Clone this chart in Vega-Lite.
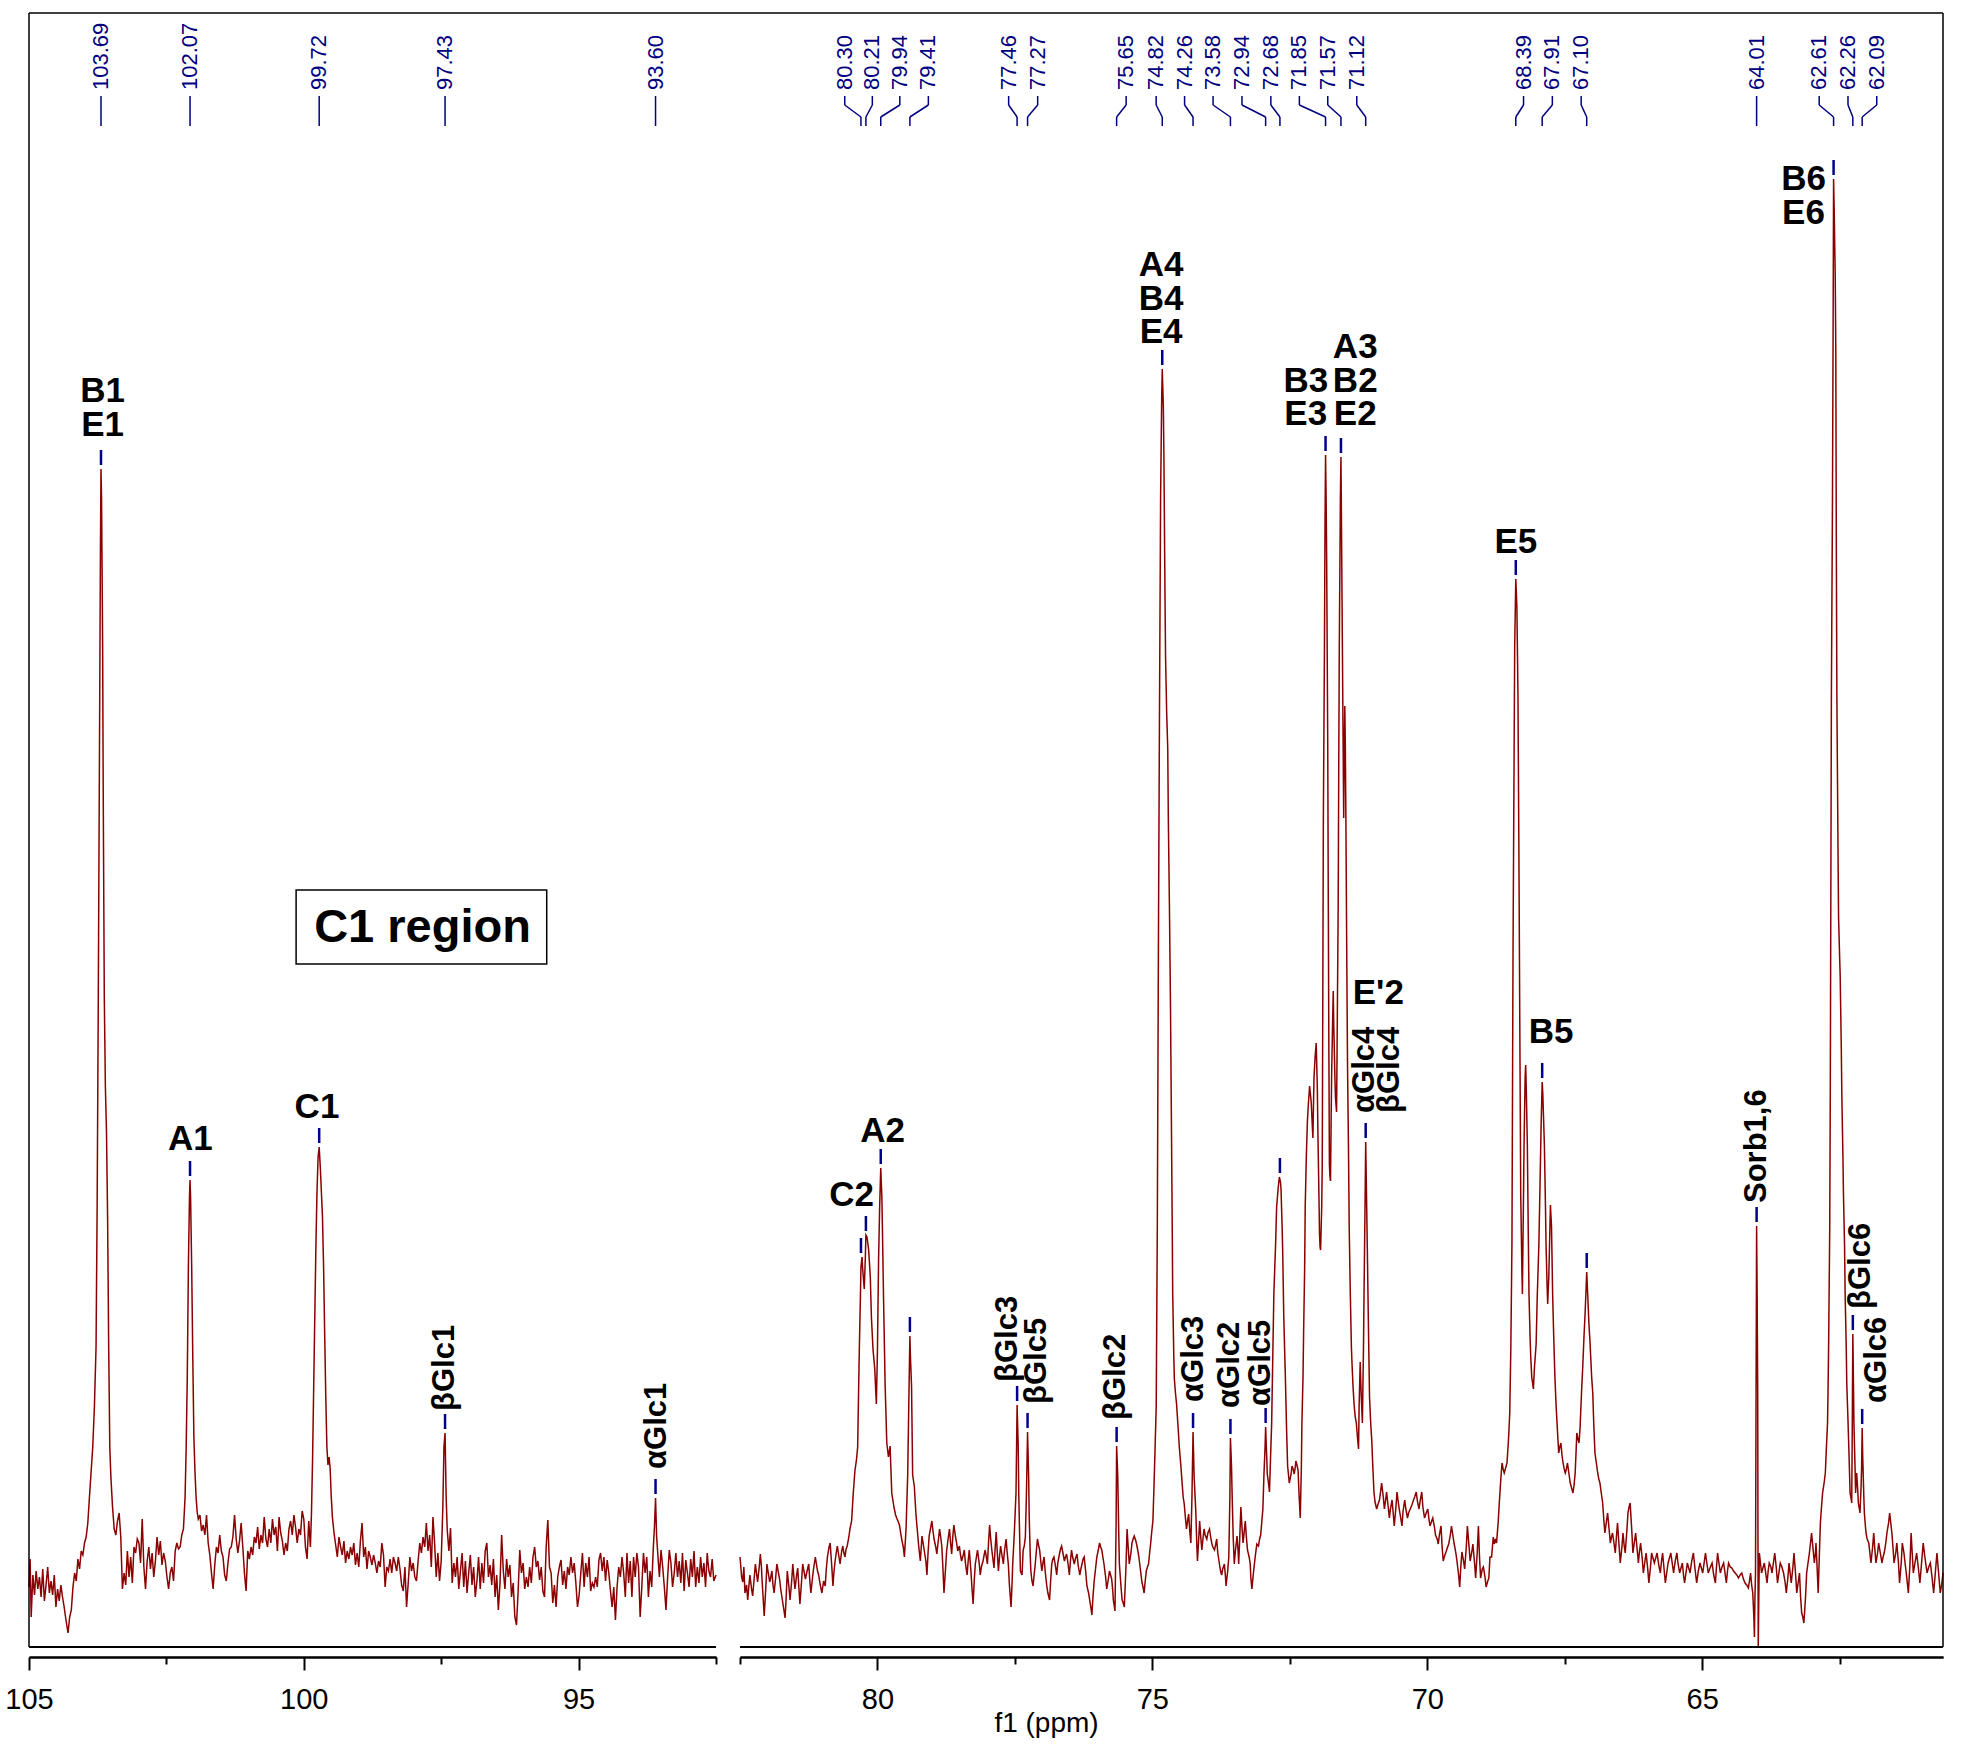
{
"$schema":"https://vega.github.io/schema/vega-lite/v6.json",
"width":1914,"height":1634,
"autosize":{"type":"none"},
"padding":{"left":29,"top":13,"right":21,"bottom":115},
"background":"white",
"config":{"view":{"stroke":null}},
"datasets":{
"L":[{"p":105.00,"y":60},{"p":104.98,"y":88},{"p":104.96,"y":30},{"p":104.93,"y":72},{"p":104.90,"y":52},{"p":104.87,"y":76},{"p":104.84,"y":58},{"p":104.81,"y":70},{"p":104.78,"y":50},{"p":104.75,"y":78},{"p":104.72,"y":46},{"p":104.69,"y":62},{"p":104.66,"y":80},{"p":104.63,"y":54},{"p":104.60,"y":66},{"p":104.57,"y":52},{"p":104.54,"y":72},{"p":104.51,"y":40},{"p":104.48,"y":58},{"p":104.45,"y":46},{"p":104.42,"y":62},{"p":104.39,"y":50},{"p":104.36,"y":40},{"p":104.33,"y":28},{"p":104.29,"y":14},{"p":104.26,"y":30},{"p":104.23,"y":37},{"p":104.20,"y":60},{"p":104.17,"y":74},{"p":104.14,"y":66},{"p":104.11,"y":88},{"p":104.08,"y":78},{"p":104.05,"y":96},{"p":104.02,"y":92},{"p":103.99,"y":104},{"p":103.96,"y":110},{"p":103.93,"y":124},{"p":103.90,"y":150},{"p":103.87,"y":175},{"p":103.84,"y":200},{"p":103.81,"y":240},{"p":103.78,"y":300},{"p":103.76,"y":440},{"p":103.74,"y":640},{"p":103.72,"y":870},{"p":103.70,"y":1100},{"p":103.69,"y":1178},{"p":103.68,"y":1150},{"p":103.66,"y":1000},{"p":103.65,"y":860},{"p":103.63,"y":650},{"p":103.61,"y":560},{"p":103.59,"y":515},{"p":103.57,"y":430},{"p":103.55,"y":300},{"p":103.53,"y":200},{"p":103.51,"y":170},{"p":103.48,"y":140},{"p":103.45,"y":118},{"p":103.42,"y":112},{"p":103.39,"y":126},{"p":103.36,"y":134},{"p":103.33,"y":110},{"p":103.30,"y":58},{"p":103.27,"y":74},{"p":103.24,"y":62},{"p":103.21,"y":96},{"p":103.18,"y":70},{"p":103.15,"y":90},{"p":103.12,"y":64},{"p":103.09,"y":100},{"p":103.06,"y":94},{"p":103.03,"y":108},{"p":103.00,"y":104},{"p":102.97,"y":84},{"p":102.94,"y":128},{"p":102.91,"y":80},{"p":102.88,"y":58},{"p":102.85,"y":86},{"p":102.82,"y":100},{"p":102.79,"y":78},{"p":102.76,"y":94},{"p":102.73,"y":70},{"p":102.70,"y":86},{"p":102.67,"y":110},{"p":102.64,"y":92},{"p":102.61,"y":106},{"p":102.58,"y":82},{"p":102.55,"y":94},{"p":102.52,"y":86},{"p":102.49,"y":70},{"p":102.46,"y":58},{"p":102.43,"y":74},{"p":102.40,"y":80},{"p":102.37,"y":66},{"p":102.34,"y":96},{"p":102.31,"y":104},{"p":102.28,"y":98},{"p":102.25,"y":100},{"p":102.22,"y":112},{"p":102.19,"y":118},{"p":102.16,"y":150},{"p":102.14,"y":200},{"p":102.12,"y":270},{"p":102.10,"y":380},{"p":102.08,"y":450},{"p":102.07,"y":467},{"p":102.06,"y":450},{"p":102.04,"y":380},{"p":102.02,"y":290},{"p":102.00,"y":210},{"p":101.98,"y":175},{"p":101.96,"y":150},{"p":101.94,"y":135},{"p":101.92,"y":128},{"p":101.89,"y":132},{"p":101.86,"y":116},{"p":101.83,"y":122},{"p":101.80,"y":112},{"p":101.77,"y":132},{"p":101.74,"y":104},{"p":101.71,"y":92},{"p":101.68,"y":74},{"p":101.65,"y":58},{"p":101.62,"y":82},{"p":101.59,"y":100},{"p":101.56,"y":94},{"p":101.53,"y":112},{"p":101.50,"y":96},{"p":101.47,"y":90},{"p":101.44,"y":72},{"p":101.41,"y":66},{"p":101.38,"y":84},{"p":101.35,"y":98},{"p":101.32,"y":100},{"p":101.29,"y":110},{"p":101.26,"y":132},{"p":101.23,"y":108},{"p":101.20,"y":94},{"p":101.17,"y":106},{"p":101.14,"y":124},{"p":101.11,"y":100},{"p":101.08,"y":74},{"p":101.05,"y":56},{"p":101.02,"y":96},{"p":100.99,"y":88},{"p":100.96,"y":100},{"p":100.93,"y":92},{"p":100.90,"y":110},{"p":100.87,"y":104},{"p":100.84,"y":120},{"p":100.81,"y":98},{"p":100.78,"y":112},{"p":100.75,"y":104},{"p":100.72,"y":130},{"p":100.69,"y":108},{"p":100.66,"y":100},{"p":100.63,"y":118},{"p":100.60,"y":104},{"p":100.57,"y":128},{"p":100.54,"y":112},{"p":100.51,"y":120},{"p":100.48,"y":96},{"p":100.45,"y":130},{"p":100.42,"y":114},{"p":100.39,"y":106},{"p":100.36,"y":92},{"p":100.33,"y":104},{"p":100.30,"y":96},{"p":100.27,"y":118},{"p":100.24,"y":126},{"p":100.21,"y":112},{"p":100.18,"y":132},{"p":100.15,"y":120},{"p":100.12,"y":104},{"p":100.09,"y":118},{"p":100.06,"y":112},{"p":100.03,"y":136},{"p":100.00,"y":128},{"p":99.97,"y":100},{"p":99.94,"y":88},{"p":99.91,"y":126},{"p":99.88,"y":100},{"p":99.86,"y":135},{"p":99.84,"y":189},{"p":99.82,"y":260},{"p":99.80,"y":330},{"p":99.78,"y":400},{"p":99.76,"y":455},{"p":99.74,"y":490},{"p":99.72,"y":500},{"p":99.70,"y":480},{"p":99.68,"y":455},{"p":99.66,"y":430},{"p":99.64,"y":380},{"p":99.62,"y":313},{"p":99.60,"y":250},{"p":99.58,"y":200},{"p":99.56,"y":182},{"p":99.54,"y":190},{"p":99.52,"y":178},{"p":99.50,"y":150},{"p":99.48,"y":130},{"p":99.45,"y":114},{"p":99.42,"y":102},{"p":99.39,"y":90},{"p":99.36,"y":110},{"p":99.33,"y":100},{"p":99.30,"y":92},{"p":99.27,"y":106},{"p":99.24,"y":84},{"p":99.21,"y":96},{"p":99.18,"y":88},{"p":99.15,"y":100},{"p":99.12,"y":92},{"p":99.09,"y":104},{"p":99.06,"y":82},{"p":99.03,"y":94},{"p":99.00,"y":80},{"p":98.97,"y":106},{"p":98.94,"y":124},{"p":98.91,"y":90},{"p":98.88,"y":100},{"p":98.85,"y":78},{"p":98.82,"y":96},{"p":98.79,"y":90},{"p":98.76,"y":82},{"p":98.73,"y":92},{"p":98.70,"y":84},{"p":98.67,"y":74},{"p":98.64,"y":86},{"p":98.61,"y":80},{"p":98.58,"y":104},{"p":98.55,"y":92},{"p":98.52,"y":60},{"p":98.49,"y":80},{"p":98.46,"y":76},{"p":98.43,"y":88},{"p":98.40,"y":74},{"p":98.37,"y":90},{"p":98.34,"y":84},{"p":98.31,"y":76},{"p":98.28,"y":90},{"p":98.25,"y":78},{"p":98.22,"y":62},{"p":98.19,"y":56},{"p":98.16,"y":80},{"p":98.13,"y":40},{"p":98.10,"y":64},{"p":98.07,"y":90},{"p":98.04,"y":76},{"p":98.01,"y":84},{"p":97.98,"y":70},{"p":97.95,"y":66},{"p":97.92,"y":86},{"p":97.89,"y":104},{"p":97.86,"y":94},{"p":97.83,"y":110},{"p":97.80,"y":100},{"p":97.77,"y":124},{"p":97.74,"y":96},{"p":97.71,"y":112},{"p":97.68,"y":80},{"p":97.65,"y":130},{"p":97.62,"y":104},{"p":97.59,"y":70},{"p":97.56,"y":94},{"p":97.53,"y":66},{"p":97.50,"y":86},{"p":97.47,"y":140},{"p":97.45,"y":200},{"p":97.43,"y":214},{"p":97.41,"y":150},{"p":97.39,"y":117},{"p":97.36,"y":96},{"p":97.33,"y":119},{"p":97.30,"y":64},{"p":97.27,"y":84},{"p":97.24,"y":70},{"p":97.21,"y":90},{"p":97.18,"y":58},{"p":97.15,"y":76},{"p":97.12,"y":94},{"p":97.09,"y":60},{"p":97.06,"y":86},{"p":97.03,"y":54},{"p":97.00,"y":74},{"p":96.97,"y":92},{"p":96.94,"y":62},{"p":96.91,"y":80},{"p":96.88,"y":50},{"p":96.85,"y":66},{"p":96.82,"y":90},{"p":96.79,"y":58},{"p":96.76,"y":84},{"p":96.73,"y":64},{"p":96.70,"y":96},{"p":96.67,"y":104},{"p":96.64,"y":70},{"p":96.61,"y":82},{"p":96.58,"y":62},{"p":96.55,"y":88},{"p":96.52,"y":50},{"p":96.49,"y":72},{"p":96.46,"y":37},{"p":96.43,"y":64},{"p":96.40,"y":112},{"p":96.37,"y":76},{"p":96.34,"y":58},{"p":96.31,"y":88},{"p":96.28,"y":70},{"p":96.25,"y":82},{"p":96.22,"y":50},{"p":96.19,"y":64},{"p":96.16,"y":30},{"p":96.13,"y":22},{"p":96.10,"y":56},{"p":96.07,"y":97},{"p":96.04,"y":74},{"p":96.01,"y":84},{"p":95.98,"y":58},{"p":95.95,"y":70},{"p":95.92,"y":60},{"p":95.89,"y":80},{"p":95.86,"y":64},{"p":95.83,"y":90},{"p":95.80,"y":100},{"p":95.77,"y":80},{"p":95.74,"y":86},{"p":95.71,"y":67},{"p":95.68,"y":80},{"p":95.65,"y":56},{"p":95.62,"y":50},{"p":95.59,"y":100},{"p":95.56,"y":127},{"p":95.53,"y":80},{"p":95.50,"y":74},{"p":95.47,"y":44},{"p":95.44,"y":62},{"p":95.41,"y":40},{"p":95.38,"y":70},{"p":95.35,"y":80},{"p":95.32,"y":87},{"p":95.29,"y":62},{"p":95.26,"y":76},{"p":95.23,"y":58},{"p":95.20,"y":80},{"p":95.17,"y":72},{"p":95.14,"y":90},{"p":95.11,"y":74},{"p":95.08,"y":84},{"p":95.05,"y":64},{"p":95.02,"y":40},{"p":94.99,"y":52},{"p":94.96,"y":74},{"p":94.93,"y":94},{"p":94.90,"y":60},{"p":94.87,"y":84},{"p":94.84,"y":70},{"p":94.81,"y":90},{"p":94.78,"y":56},{"p":94.75,"y":64},{"p":94.72,"y":60},{"p":94.69,"y":70},{"p":94.66,"y":60},{"p":94.63,"y":87},{"p":94.60,"y":94},{"p":94.57,"y":76},{"p":94.54,"y":90},{"p":94.51,"y":66},{"p":94.48,"y":87},{"p":94.45,"y":74},{"p":94.42,"y":56},{"p":94.39,"y":40},{"p":94.36,"y":60},{"p":94.33,"y":27},{"p":94.30,"y":60},{"p":94.27,"y":80},{"p":94.24,"y":70},{"p":94.21,"y":90},{"p":94.18,"y":74},{"p":94.15,"y":50},{"p":94.12,"y":94},{"p":94.09,"y":64},{"p":94.06,"y":86},{"p":94.03,"y":50},{"p":94.00,"y":90},{"p":93.97,"y":70},{"p":93.94,"y":94},{"p":93.91,"y":80},{"p":93.88,"y":30},{"p":93.85,"y":60},{"p":93.82,"y":94},{"p":93.79,"y":74},{"p":93.76,"y":90},{"p":93.73,"y":50},{"p":93.70,"y":76},{"p":93.67,"y":60},{"p":93.64,"y":100},{"p":93.62,"y":120},{"p":93.60,"y":149},{"p":93.58,"y":110},{"p":93.56,"y":94},{"p":93.53,"y":70},{"p":93.50,"y":97},{"p":93.47,"y":80},{"p":93.44,"y":60},{"p":93.41,"y":37},{"p":93.38,"y":70},{"p":93.35,"y":97},{"p":93.32,"y":84},{"p":93.29,"y":60},{"p":93.26,"y":74},{"p":93.23,"y":94},{"p":93.20,"y":70},{"p":93.17,"y":86},{"p":93.14,"y":64},{"p":93.11,"y":94},{"p":93.08,"y":56},{"p":93.05,"y":87},{"p":93.02,"y":74},{"p":92.99,"y":60},{"p":92.96,"y":88},{"p":92.93,"y":70},{"p":92.90,"y":96},{"p":92.87,"y":60},{"p":92.84,"y":80},{"p":92.81,"y":64},{"p":92.78,"y":90},{"p":92.75,"y":70},{"p":92.72,"y":84},{"p":92.69,"y":60},{"p":92.66,"y":94},{"p":92.63,"y":76},{"p":92.60,"y":70},{"p":92.57,"y":88},{"p":92.54,"y":66},{"p":92.50,"y":72}],
"R":[{"p":82.50,"y":90},{"p":82.47,"y":70},{"p":82.45,"y":65},{"p":82.43,"y":80},{"p":82.41,"y":54},{"p":82.38,"y":62},{"p":82.36,"y":47},{"p":82.34,"y":60},{"p":82.32,"y":72},{"p":82.29,"y":58},{"p":82.27,"y":51},{"p":82.24,"y":70},{"p":82.22,"y":83},{"p":82.20,"y":74},{"p":82.18,"y":65},{"p":82.15,"y":80},{"p":82.13,"y":93},{"p":82.11,"y":80},{"p":82.10,"y":68},{"p":82.08,"y":50},{"p":82.06,"y":31},{"p":82.03,"y":60},{"p":82.01,"y":83},{"p":81.98,"y":72},{"p":81.96,"y":65},{"p":81.94,"y":70},{"p":81.92,"y":76},{"p":81.90,"y":62},{"p":81.88,"y":54},{"p":81.85,"y":70},{"p":81.83,"y":83},{"p":81.80,"y":74},{"p":81.78,"y":68},{"p":81.76,"y":58},{"p":81.74,"y":51},{"p":81.71,"y":40},{"p":81.68,"y":29},{"p":81.66,"y":50},{"p":81.64,"y":76},{"p":81.61,"y":60},{"p":81.59,"y":47},{"p":81.56,"y":66},{"p":81.54,"y":83},{"p":81.52,"y":70},{"p":81.50,"y":58},{"p":81.47,"y":72},{"p":81.45,"y":79},{"p":81.43,"y":60},{"p":81.41,"y":43},{"p":81.38,"y":66},{"p":81.36,"y":83},{"p":81.33,"y":74},{"p":81.31,"y":68},{"p":81.28,"y":76},{"p":81.25,"y":83},{"p":81.23,"y":66},{"p":81.21,"y":54},{"p":81.18,"y":70},{"p":81.16,"y":79},{"p":81.13,"y":90},{"p":81.11,"y":83},{"p":81.09,"y":76},{"p":81.07,"y":72},{"p":81.04,"y":62},{"p":81.01,"y":54},{"p":80.98,"y":66},{"p":80.95,"y":61},{"p":80.93,"y":78},{"p":80.91,"y":90},{"p":80.88,"y":100},{"p":80.86,"y":104},{"p":80.83,"y":80},{"p":80.81,"y":61},{"p":80.79,"y":76},{"p":80.77,"y":86},{"p":80.75,"y":94},{"p":80.73,"y":101},{"p":80.70,"y":90},{"p":80.68,"y":83},{"p":80.65,"y":96},{"p":80.63,"y":101},{"p":80.61,"y":94},{"p":80.59,"y":90},{"p":80.57,"y":98},{"p":80.55,"y":101},{"p":80.52,"y":110},{"p":80.50,"y":118},{"p":80.47,"y":126},{"p":80.44,"y":154},{"p":80.41,"y":176},{"p":80.38,"y":188},{"p":80.36,"y":200},{"p":80.35,"y":233},{"p":80.33,"y":297},{"p":80.31,"y":350},{"p":80.30,"y":380},{"p":80.28,"y":390},{"p":80.27,"y":379},{"p":80.25,"y":365},{"p":80.24,"y":358},{"p":80.22,"y":390},{"p":80.21,"y":412},{"p":80.19,"y":410},{"p":80.16,"y":397},{"p":80.13,"y":370},{"p":80.11,"y":330},{"p":80.08,"y":297},{"p":80.05,"y":279},{"p":80.02,"y":243},{"p":80.00,"y":297},{"p":79.98,"y":386},{"p":79.96,"y":440},{"p":79.94,"y":479},{"p":79.92,"y":450},{"p":79.91,"y":420},{"p":79.89,"y":351},{"p":79.86,"y":261},{"p":79.83,"y":204},{"p":79.80,"y":190},{"p":79.77,"y":201},{"p":79.74,"y":154},{"p":79.70,"y":140},{"p":79.67,"y":132},{"p":79.65,"y":129},{"p":79.62,"y":125},{"p":79.60,"y":122},{"p":79.58,"y":115},{"p":79.56,"y":108},{"p":79.53,"y":100},{"p":79.51,"y":90},{"p":79.48,"y":118},{"p":79.45,"y":172},{"p":79.43,"y":243},{"p":79.41,"y":311},{"p":79.40,"y":290},{"p":79.38,"y":261},{"p":79.36,"y":172},{"p":79.33,"y":161},{"p":79.30,"y":133},{"p":79.28,"y":120},{"p":79.25,"y":101},{"p":79.22,"y":86},{"p":79.19,"y":111},{"p":79.17,"y":104},{"p":79.15,"y":97},{"p":79.12,"y":86},{"p":79.10,"y":72},{"p":79.08,"y":94},{"p":79.06,"y":111},{"p":79.03,"y":120},{"p":79.01,"y":126},{"p":78.99,"y":116},{"p":78.97,"y":108},{"p":78.94,"y":100},{"p":78.92,"y":93},{"p":78.89,"y":108},{"p":78.87,"y":118},{"p":78.85,"y":110},{"p":78.83,"y":101},{"p":78.81,"y":80},{"p":78.79,"y":54},{"p":78.76,"y":80},{"p":78.74,"y":97},{"p":78.71,"y":110},{"p":78.69,"y":118},{"p":78.67,"y":104},{"p":78.65,"y":93},{"p":78.63,"y":110},{"p":78.61,"y":122},{"p":78.58,"y":110},{"p":78.56,"y":104},{"p":78.54,"y":96},{"p":78.51,"y":101},{"p":78.49,"y":92},{"p":78.47,"y":86},{"p":78.44,"y":92},{"p":78.42,"y":97},{"p":78.40,"y":84},{"p":78.37,"y":72},{"p":78.35,"y":86},{"p":78.33,"y":97},{"p":78.30,"y":76},{"p":78.28,"y":58},{"p":78.26,"y":43},{"p":78.24,"y":66},{"p":78.22,"y":83},{"p":78.20,"y":90},{"p":78.18,"y":97},{"p":78.15,"y":84},{"p":78.13,"y":72},{"p":78.11,"y":80},{"p":78.08,"y":86},{"p":78.06,"y":92},{"p":78.04,"y":97},{"p":78.02,"y":90},{"p":78.00,"y":83},{"p":77.98,"y":104},{"p":77.96,"y":122},{"p":77.94,"y":108},{"p":77.92,"y":97},{"p":77.90,"y":88},{"p":77.88,"y":79},{"p":77.86,"y":98},{"p":77.84,"y":115},{"p":77.82,"y":94},{"p":77.80,"y":76},{"p":77.78,"y":90},{"p":77.76,"y":101},{"p":77.73,"y":90},{"p":77.71,"y":83},{"p":77.69,"y":96},{"p":77.66,"y":108},{"p":77.64,"y":94},{"p":77.62,"y":83},{"p":77.60,"y":62},{"p":77.57,"y":40},{"p":77.55,"y":66},{"p":77.54,"y":83},{"p":77.52,"y":104},{"p":77.51,"y":115},{"p":77.48,"y":154},{"p":77.46,"y":242},{"p":77.44,"y":200},{"p":77.43,"y":154},{"p":77.41,"y":100},{"p":77.40,"y":76},{"p":77.37,"y":72},{"p":77.35,"y":97},{"p":77.33,"y":101},{"p":77.31,"y":110},{"p":77.29,"y":154},{"p":77.27,"y":215},{"p":77.25,"y":170},{"p":77.24,"y":130},{"p":77.22,"y":90},{"p":77.21,"y":76},{"p":77.19,"y":66},{"p":77.17,"y":61},{"p":77.15,"y":72},{"p":77.13,"y":83},{"p":77.11,"y":96},{"p":77.09,"y":108},{"p":77.07,"y":102},{"p":77.05,"y":97},{"p":77.03,"y":86},{"p":77.01,"y":76},{"p":76.99,"y":84},{"p":76.97,"y":90},{"p":76.95,"y":76},{"p":76.92,"y":61},{"p":76.90,"y":54},{"p":76.87,"y":47},{"p":76.85,"y":66},{"p":76.83,"y":83},{"p":76.81,"y":88},{"p":76.79,"y":90},{"p":76.76,"y":80},{"p":76.74,"y":72},{"p":76.72,"y":84},{"p":76.69,"y":93},{"p":76.67,"y":98},{"p":76.65,"y":101},{"p":76.62,"y":92},{"p":76.60,"y":86},{"p":76.58,"y":90},{"p":76.56,"y":93},{"p":76.53,"y":82},{"p":76.51,"y":72},{"p":76.49,"y":86},{"p":76.47,"y":97},{"p":76.45,"y":90},{"p":76.42,"y":83},{"p":76.40,"y":88},{"p":76.37,"y":93},{"p":76.35,"y":82},{"p":76.32,"y":72},{"p":76.30,"y":78},{"p":76.28,"y":83},{"p":76.26,"y":88},{"p":76.24,"y":90},{"p":76.21,"y":74},{"p":76.19,"y":61},{"p":76.16,"y":54},{"p":76.14,"y":47},{"p":76.12,"y":40},{"p":76.10,"y":32},{"p":76.08,"y":50},{"p":76.06,"y":65},{"p":76.03,"y":80},{"p":76.01,"y":90},{"p":75.98,"y":98},{"p":75.96,"y":104},{"p":75.94,"y":100},{"p":75.92,"y":97},{"p":75.90,"y":90},{"p":75.88,"y":83},{"p":75.85,"y":70},{"p":75.83,"y":58},{"p":75.80,"y":68},{"p":75.78,"y":76},{"p":75.76,"y":72},{"p":75.74,"y":68},{"p":75.72,"y":56},{"p":75.71,"y":47},{"p":75.69,"y":40},{"p":75.68,"y":36},{"p":75.66,"y":120},{"p":75.65,"y":201},{"p":75.63,"y":172},{"p":75.61,"y":110},{"p":75.60,"y":83},{"p":75.57,"y":60},{"p":75.55,"y":47},{"p":75.53,"y":44},{"p":75.51,"y":40},{"p":75.48,"y":80},{"p":75.46,"y":118},{"p":75.44,"y":100},{"p":75.42,"y":83},{"p":75.39,"y":94},{"p":75.37,"y":104},{"p":75.35,"y":108},{"p":75.33,"y":111},{"p":75.30,"y":106},{"p":75.28,"y":101},{"p":75.25,"y":92},{"p":75.23,"y":83},{"p":75.21,"y":74},{"p":75.19,"y":65},{"p":75.17,"y":60},{"p":75.15,"y":54},{"p":75.13,"y":66},{"p":75.11,"y":76},{"p":75.09,"y":80},{"p":75.07,"y":83},{"p":75.05,"y":94},{"p":75.03,"y":104},{"p":75.01,"y":116},{"p":74.99,"y":126},{"p":74.97,"y":161},{"p":74.95,"y":200},{"p":74.93,"y":240},{"p":74.91,"y":420},{"p":74.89,"y":700},{"p":74.87,"y":940},{"p":74.85,"y":1150},{"p":74.83,"y":1250},{"p":74.82,"y":1278},{"p":74.80,"y":1240},{"p":74.79,"y":1190},{"p":74.77,"y":1050},{"p":74.76,"y":990},{"p":74.74,"y":935},{"p":74.72,"y":898},{"p":74.71,"y":830},{"p":74.69,"y":743},{"p":74.67,"y":640},{"p":74.66,"y":570},{"p":74.64,"y":430},{"p":74.63,"y":354},{"p":74.61,"y":290},{"p":74.60,"y":268},{"p":74.58,"y":254},{"p":74.56,"y":243},{"p":74.53,"y":218},{"p":74.51,"y":200},{"p":74.48,"y":180},{"p":74.46,"y":165},{"p":74.44,"y":150},{"p":74.42,"y":143},{"p":74.40,"y":130},{"p":74.38,"y":118},{"p":74.36,"y":126},{"p":74.34,"y":133},{"p":74.32,"y":116},{"p":74.30,"y":104},{"p":74.28,"y":150},{"p":74.26,"y":215},{"p":74.24,"y":170},{"p":74.21,"y":136},{"p":74.19,"y":100},{"p":74.18,"y":86},{"p":74.16,"y":105},{"p":74.14,"y":126},{"p":74.12,"y":110},{"p":74.10,"y":97},{"p":74.08,"y":108},{"p":74.06,"y":118},{"p":74.04,"y":112},{"p":74.01,"y":108},{"p":73.99,"y":114},{"p":73.96,"y":118},{"p":73.94,"y":110},{"p":73.92,"y":104},{"p":73.90,"y":100},{"p":73.87,"y":97},{"p":73.85,"y":102},{"p":73.83,"y":108},{"p":73.81,"y":94},{"p":73.78,"y":83},{"p":73.76,"y":76},{"p":73.74,"y":72},{"p":73.72,"y":78},{"p":73.69,"y":83},{"p":73.67,"y":70},{"p":73.66,"y":61},{"p":73.63,"y":76},{"p":73.61,"y":90},{"p":73.59,"y":150},{"p":73.58,"y":209},{"p":73.56,"y":180},{"p":73.55,"y":154},{"p":73.53,"y":110},{"p":73.51,"y":83},{"p":73.49,"y":96},{"p":73.46,"y":111},{"p":73.44,"y":95},{"p":73.43,"y":83},{"p":73.41,"y":110},{"p":73.39,"y":140},{"p":73.37,"y":120},{"p":73.35,"y":104},{"p":73.33,"y":115},{"p":73.31,"y":126},{"p":73.29,"y":110},{"p":73.27,"y":97},{"p":73.24,"y":90},{"p":73.22,"y":83},{"p":73.21,"y":70},{"p":73.19,"y":58},{"p":73.16,"y":75},{"p":73.13,"y":90},{"p":73.10,"y":103},{"p":73.07,"y":101},{"p":73.05,"y":108},{"p":73.03,"y":112},{"p":73.01,"y":125},{"p":72.99,"y":138},{"p":72.97,"y":173},{"p":72.95,"y":200},{"p":72.94,"y":220},{"p":72.92,"y":190},{"p":72.91,"y":173},{"p":72.89,"y":165},{"p":72.87,"y":155},{"p":72.85,"y":190},{"p":72.83,"y":224},{"p":72.81,"y":290},{"p":72.79,"y":354},{"p":72.76,"y":400},{"p":72.74,"y":440},{"p":72.71,"y":460},{"p":72.69,"y":470},{"p":72.67,"y":465},{"p":72.66,"y":458},{"p":72.64,"y":420},{"p":72.63,"y":397},{"p":72.61,"y":330},{"p":72.58,"y":268},{"p":72.56,"y":220},{"p":72.54,"y":181},{"p":72.52,"y":170},{"p":72.51,"y":164},{"p":72.48,"y":172},{"p":72.46,"y":181},{"p":72.44,"y":178},{"p":72.42,"y":173},{"p":72.40,"y":180},{"p":72.39,"y":186},{"p":72.37,"y":182},{"p":72.35,"y":177},{"p":72.33,"y":150},{"p":72.31,"y":129},{"p":72.29,"y":180},{"p":72.28,"y":224},{"p":72.26,"y":270},{"p":72.25,"y":311},{"p":72.23,"y":380},{"p":72.22,"y":440},{"p":72.20,"y":490},{"p":72.18,"y":526},{"p":72.16,"y":545},{"p":72.14,"y":561},{"p":72.12,"y":550},{"p":72.11,"y":544},{"p":72.09,"y":520},{"p":72.08,"y":509},{"p":72.07,"y":540},{"p":72.06,"y":570},{"p":72.04,"y":590},{"p":72.02,"y":604},{"p":72.00,"y":560},{"p":71.99,"y":518},{"p":71.97,"y":450},{"p":71.96,"y":414},{"p":71.95,"y":400},{"p":71.94,"y":397},{"p":71.92,"y":440},{"p":71.91,"y":483},{"p":71.90,"y":650},{"p":71.89,"y":829},{"p":71.87,"y":1000},{"p":71.86,"y":1120},{"p":71.85,"y":1192},{"p":71.84,"y":1150},{"p":71.83,"y":1088},{"p":71.81,"y":900},{"p":71.80,"y":743},{"p":71.79,"y":600},{"p":71.78,"y":483},{"p":71.77,"y":470},{"p":71.76,"y":466},{"p":71.75,"y":520},{"p":71.74,"y":570},{"p":71.72,"y":630},{"p":71.71,"y":656},{"p":71.70,"y":620},{"p":71.68,"y":570},{"p":71.67,"y":550},{"p":71.65,"y":535},{"p":71.64,"y":600},{"p":71.62,"y":743},{"p":71.61,"y":880},{"p":71.60,"y":1002},{"p":71.58,"y":1150},{"p":71.57,"y":1190},{"p":71.56,"y":1120},{"p":71.55,"y":1045},{"p":71.53,"y":900},{"p":71.52,"y":829},{"p":71.51,"y":890},{"p":71.50,"y":941},{"p":71.49,"y":900},{"p":71.48,"y":829},{"p":71.47,"y":740},{"p":71.46,"y":656},{"p":71.45,"y":580},{"p":71.43,"y":483},{"p":71.42,"y":420},{"p":71.40,"y":354},{"p":71.38,"y":300},{"p":71.37,"y":285},{"p":71.35,"y":260},{"p":71.33,"y":242},{"p":71.31,"y":230},{"p":71.29,"y":224},{"p":71.27,"y":210},{"p":71.25,"y":198},{"p":71.24,"y":240},{"p":71.22,"y":285},{"p":71.20,"y":250},{"p":71.18,"y":224},{"p":71.16,"y":300},{"p":71.15,"y":354},{"p":71.13,"y":450},{"p":71.12,"y":505},{"p":71.11,"y":470},{"p":71.09,"y":397},{"p":71.07,"y":320},{"p":71.05,"y":250},{"p":71.03,"y":225},{"p":71.01,"y":207},{"p":70.99,"y":180},{"p":70.97,"y":155},{"p":70.95,"y":145},{"p":70.92,"y":138},{"p":70.90,"y":142},{"p":70.87,"y":147},{"p":70.85,"y":155},{"p":70.83,"y":164},{"p":70.80,"y":150},{"p":70.78,"y":138},{"p":70.76,"y":146},{"p":70.74,"y":155},{"p":70.71,"y":140},{"p":70.69,"y":129},{"p":70.67,"y":138},{"p":70.64,"y":147},{"p":70.62,"y":134},{"p":70.60,"y":121},{"p":70.57,"y":140},{"p":70.55,"y":155},{"p":70.53,"y":146},{"p":70.51,"y":138},{"p":70.48,"y":128},{"p":70.46,"y":121},{"p":70.44,"y":136},{"p":70.41,"y":147},{"p":70.39,"y":138},{"p":70.36,"y":129},{"p":70.34,"y":134},{"p":70.31,"y":138},{"p":70.28,"y":142},{"p":70.25,"y":147},{"p":70.23,"y":150},{"p":70.20,"y":155},{"p":70.18,"y":146},{"p":70.15,"y":138},{"p":70.13,"y":146},{"p":70.10,"y":155},{"p":70.08,"y":140},{"p":70.05,"y":129},{"p":70.02,"y":134},{"p":69.99,"y":138},{"p":69.97,"y":128},{"p":69.95,"y":121},{"p":69.92,"y":126},{"p":69.90,"y":129},{"p":69.87,"y":120},{"p":69.85,"y":112},{"p":69.82,"y":108},{"p":69.80,"y":103},{"p":69.78,"y":112},{"p":69.75,"y":121},{"p":69.73,"y":100},{"p":69.71,"y":86},{"p":69.68,"y":92},{"p":69.66,"y":95},{"p":69.63,"y":100},{"p":69.61,"y":103},{"p":69.58,"y":112},{"p":69.56,"y":121},{"p":69.53,"y":110},{"p":69.51,"y":103},{"p":69.48,"y":94},{"p":69.46,"y":86},{"p":69.43,"y":72},{"p":69.41,"y":60},{"p":69.39,"y":80},{"p":69.37,"y":95},{"p":69.34,"y":86},{"p":69.32,"y":78},{"p":69.29,"y":100},{"p":69.27,"y":121},{"p":69.24,"y":100},{"p":69.22,"y":86},{"p":69.19,"y":95},{"p":69.17,"y":103},{"p":69.14,"y":84},{"p":69.12,"y":69},{"p":69.09,"y":96},{"p":69.07,"y":121},{"p":69.05,"y":90},{"p":69.03,"y":69},{"p":69.00,"y":78},{"p":68.98,"y":80},{"p":68.95,"y":70},{"p":68.93,"y":60},{"p":68.90,"y":66},{"p":68.88,"y":69},{"p":68.86,"y":90},{"p":68.83,"y":90},{"p":68.80,"y":110},{"p":68.78,"y":103},{"p":68.76,"y":108},{"p":68.74,"y":104},{"p":68.71,"y":125},{"p":68.69,"y":144},{"p":68.66,"y":170},{"p":68.64,"y":184},{"p":68.62,"y":178},{"p":68.60,"y":174},{"p":68.57,"y":180},{"p":68.55,"y":184},{"p":68.52,"y":210},{"p":68.50,"y":234},{"p":68.48,"y":300},{"p":68.46,"y":403},{"p":68.44,"y":700},{"p":68.42,"y":900},{"p":68.41,"y":1000},{"p":68.39,"y":1068},{"p":68.37,"y":1040},{"p":68.35,"y":950},{"p":68.33,"y":760},{"p":68.32,"y":651},{"p":68.30,"y":452},{"p":68.28,"y":380},{"p":68.27,"y":353},{"p":68.25,"y":450},{"p":68.24,"y":502},{"p":68.22,"y":570},{"p":68.21,"y":582},{"p":68.20,"y":560},{"p":68.18,"y":502},{"p":68.16,"y":400},{"p":68.15,"y":353},{"p":68.13,"y":310},{"p":68.12,"y":293},{"p":68.10,"y":270},{"p":68.07,"y":258},{"p":68.05,"y":280},{"p":68.02,"y":303},{"p":68.00,"y":350},{"p":67.97,"y":403},{"p":67.95,"y":460},{"p":67.93,"y":520},{"p":67.91,"y":565},{"p":67.90,"y":555},{"p":67.88,"y":520},{"p":67.87,"y":502},{"p":67.85,"y":440},{"p":67.84,"y":403},{"p":67.82,"y":360},{"p":67.81,"y":343},{"p":67.79,"y":370},{"p":67.78,"y":393},{"p":67.76,"y":442},{"p":67.74,"y":420},{"p":67.72,"y":353},{"p":67.70,"y":310},{"p":67.68,"y":273},{"p":67.66,"y":245},{"p":67.64,"y":224},{"p":67.61,"y":194},{"p":67.59,"y":200},{"p":67.57,"y":204},{"p":67.55,"y":192},{"p":67.53,"y":184},{"p":67.51,"y":178},{"p":67.49,"y":174},{"p":67.47,"y":178},{"p":67.45,"y":184},{"p":67.42,"y":172},{"p":67.40,"y":164},{"p":67.37,"y":158},{"p":67.35,"y":154},{"p":67.33,"y":162},{"p":67.31,"y":174},{"p":67.29,"y":200},{"p":67.28,"y":214},{"p":67.26,"y":208},{"p":67.24,"y":204},{"p":67.22,"y":220},{"p":67.21,"y":234},{"p":67.19,"y":260},{"p":67.17,"y":283},{"p":67.15,"y":310},{"p":67.13,"y":333},{"p":67.11,"y":360},{"p":67.10,"y":375},{"p":67.08,"y":350},{"p":67.06,"y":323},{"p":67.04,"y":305},{"p":67.03,"y":293},{"p":67.01,"y":270},{"p":66.99,"y":254},{"p":66.97,"y":220},{"p":66.95,"y":194},{"p":66.92,"y":182},{"p":66.90,"y":174},{"p":66.88,"y":168},{"p":66.86,"y":164},{"p":66.83,"y":152},{"p":66.81,"y":144},{"p":66.79,"y":128},{"p":66.77,"y":114},{"p":66.74,"y":126},{"p":66.72,"y":134},{"p":66.69,"y":116},{"p":66.67,"y":104},{"p":66.65,"y":110},{"p":66.63,"y":114},{"p":66.60,"y":102},{"p":66.58,"y":94},{"p":66.56,"y":110},{"p":66.54,"y":124},{"p":66.51,"y":100},{"p":66.49,"y":84},{"p":66.46,"y":100},{"p":66.44,"y":114},{"p":66.42,"y":102},{"p":66.40,"y":94},{"p":66.37,"y":116},{"p":66.35,"y":134},{"p":66.33,"y":140},{"p":66.31,"y":144},{"p":66.28,"y":116},{"p":66.26,"y":94},{"p":66.23,"y":106},{"p":66.21,"y":114},{"p":66.18,"y":96},{"p":66.16,"y":84},{"p":66.14,"y":96},{"p":66.12,"y":104},{"p":66.09,"y":88},{"p":66.07,"y":74},{"p":66.04,"y":86},{"p":66.02,"y":94},{"p":65.99,"y":78},{"p":65.97,"y":64},{"p":65.94,"y":80},{"p":65.92,"y":94},{"p":65.89,"y":88},{"p":65.87,"y":84},{"p":65.84,"y":90},{"p":65.82,"y":94},{"p":65.79,"y":82},{"p":65.76,"y":74},{"p":65.74,"y":86},{"p":65.72,"y":94},{"p":65.69,"y":76},{"p":65.67,"y":64},{"p":65.64,"y":76},{"p":65.62,"y":84},{"p":65.59,"y":90},{"p":65.57,"y":94},{"p":65.54,"y":82},{"p":65.52,"y":74},{"p":65.49,"y":86},{"p":65.46,"y":94},{"p":65.44,"y":84},{"p":65.41,"y":74},{"p":65.38,"y":80},{"p":65.36,"y":84},{"p":65.34,"y":72},{"p":65.32,"y":64},{"p":65.29,"y":76},{"p":65.27,"y":84},{"p":65.24,"y":78},{"p":65.22,"y":74},{"p":65.19,"y":86},{"p":65.16,"y":94},{"p":65.13,"y":78},{"p":65.10,"y":64},{"p":65.07,"y":76},{"p":65.04,"y":84},{"p":65.01,"y":78},{"p":64.99,"y":74},{"p":64.96,"y":86},{"p":64.94,"y":94},{"p":64.91,"y":82},{"p":64.89,"y":74},{"p":64.85,"y":80},{"p":64.82,"y":84},{"p":64.79,"y":72},{"p":64.76,"y":64},{"p":64.74,"y":80},{"p":64.72,"y":94},{"p":64.69,"y":82},{"p":64.67,"y":74},{"p":64.64,"y":80},{"p":64.61,"y":84},{"p":64.58,"y":72},{"p":64.56,"y":64},{"p":64.54,"y":76},{"p":64.52,"y":84},{"p":64.49,"y":80},{"p":64.46,"y":79},{"p":64.43,"y":76},{"p":64.40,"y":74},{"p":64.37,"y":72},{"p":64.34,"y":69},{"p":64.31,"y":72},{"p":64.28,"y":74},{"p":64.25,"y":68},{"p":64.22,"y":64},{"p":64.19,"y":62},{"p":64.16,"y":59},{"p":64.14,"y":66},{"p":64.12,"y":74},{"p":64.10,"y":62},{"p":64.08,"y":54},{"p":64.06,"y":30},{"p":64.05,"y":10},{"p":64.04,"y":50},{"p":64.03,"y":74},{"p":64.02,"y":250},{"p":64.01,"y":421},{"p":64.00,"y":350},{"p":63.99,"y":254},{"p":63.985,"y":100},{"p":63.98,"y":0},{"p":63.97,"y":50},{"p":63.96,"y":94},{"p":63.94,"y":84},{"p":63.92,"y":74},{"p":63.89,"y":80},{"p":63.87,"y":84},{"p":63.84,"y":72},{"p":63.82,"y":64},{"p":63.80,"y":76},{"p":63.78,"y":84},{"p":63.75,"y":80},{"p":63.73,"y":74},{"p":63.70,"y":86},{"p":63.68,"y":94},{"p":63.65,"y":78},{"p":63.63,"y":64},{"p":63.60,"y":76},{"p":63.58,"y":84},{"p":63.55,"y":80},{"p":63.52,"y":74},{"p":63.49,"y":64},{"p":63.47,"y":54},{"p":63.44,"y":70},{"p":63.42,"y":84},{"p":63.40,"y":74},{"p":63.38,"y":64},{"p":63.35,"y":80},{"p":63.33,"y":94},{"p":63.30,"y":72},{"p":63.28,"y":54},{"p":63.25,"y":66},{"p":63.23,"y":74},{"p":63.21,"y":50},{"p":63.19,"y":34},{"p":63.17,"y":30},{"p":63.15,"y":24},{"p":63.12,"y":50},{"p":63.10,"y":74},{"p":63.07,"y":86},{"p":63.05,"y":94},{"p":63.03,"y":104},{"p":63.01,"y":114},{"p":62.98,"y":96},{"p":62.96,"y":84},{"p":62.94,"y":94},{"p":62.93,"y":104},{"p":62.91,"y":80},{"p":62.89,"y":54},{"p":62.87,"y":90},{"p":62.85,"y":124},{"p":62.83,"y":140},{"p":62.81,"y":154},{"p":62.78,"y":165},{"p":62.76,"y":174},{"p":62.74,"y":200},{"p":62.72,"y":224},{"p":62.71,"y":260},{"p":62.70,"y":303},{"p":62.68,"y":420},{"p":62.67,"y":552},{"p":62.66,"y":750},{"p":62.65,"y":950},{"p":62.63,"y":1150},{"p":62.62,"y":1298},{"p":62.61,"y":1468},{"p":62.60,"y":1440},{"p":62.58,"y":1370},{"p":62.57,"y":1298},{"p":62.56,"y":1100},{"p":62.55,"y":950},{"p":62.53,"y":800},{"p":62.52,"y":731},{"p":62.50,"y":690},{"p":62.49,"y":671},{"p":62.47,"y":600},{"p":62.46,"y":552},{"p":62.44,"y":490},{"p":62.43,"y":452},{"p":62.41,"y":400},{"p":62.40,"y":353},{"p":62.38,"y":300},{"p":62.37,"y":263},{"p":62.35,"y":230},{"p":62.33,"y":194},{"p":62.31,"y":154},{"p":62.29,"y":148},{"p":62.28,"y":144},{"p":62.27,"y":220},{"p":62.26,"y":313},{"p":62.25,"y":270},{"p":62.24,"y":224},{"p":62.22,"y":180},{"p":62.21,"y":154},{"p":62.20,"y":165},{"p":62.19,"y":174},{"p":62.17,"y":156},{"p":62.16,"y":144},{"p":62.14,"y":138},{"p":62.13,"y":134},{"p":62.11,"y":160},{"p":62.10,"y":180},{"p":62.09,"y":219},{"p":62.08,"y":190},{"p":62.06,"y":150},{"p":62.05,"y":134},{"p":62.03,"y":120},{"p":62.02,"y":114},{"p":62.00,"y":108},{"p":61.97,"y":104},{"p":61.95,"y":94},{"p":61.93,"y":84},{"p":61.90,"y":100},{"p":61.88,"y":114},{"p":61.86,"y":98},{"p":61.84,"y":84},{"p":61.81,"y":94},{"p":61.79,"y":104},{"p":61.76,"y":94},{"p":61.73,"y":84},{"p":61.71,"y":90},{"p":61.69,"y":94},{"p":61.66,"y":104},{"p":61.64,"y":114},{"p":61.61,"y":124},{"p":61.59,"y":134},{"p":61.57,"y":124},{"p":61.55,"y":114},{"p":61.53,"y":100},{"p":61.51,"y":84},{"p":61.48,"y":94},{"p":61.46,"y":104},{"p":61.43,"y":84},{"p":61.41,"y":64},{"p":61.38,"y":84},{"p":61.36,"y":104},{"p":61.33,"y":94},{"p":61.31,"y":84},{"p":61.28,"y":70},{"p":61.25,"y":54},{"p":61.22,"y":84},{"p":61.20,"y":114},{"p":61.18,"y":94},{"p":61.16,"y":74},{"p":61.13,"y":84},{"p":61.10,"y":94},{"p":61.07,"y":80},{"p":61.04,"y":64},{"p":61.01,"y":84},{"p":60.98,"y":104},{"p":60.95,"y":90},{"p":60.91,"y":74},{"p":60.88,"y":80},{"p":60.85,"y":84},{"p":60.82,"y":70},{"p":60.79,"y":54},{"p":60.76,"y":74},{"p":60.73,"y":94},{"p":60.70,"y":74},{"p":60.67,"y":54},{"p":60.64,"y":64},{"p":60.62,"y":74}],
"LT":[{"p":103.69,"h":1178},{"p":102.07,"h":467},{"p":99.72,"h":500},{"p":97.43,"h":214},{"p":93.60,"h":149}],
"RT":[{"p":80.30,"h":390},{"p":80.21,"h":412},{"p":79.94,"h":479},{"p":79.41,"h":311},{"p":77.46,"h":242},{"p":77.27,"h":215},{"p":75.65,"h":201},{"p":74.82,"h":1278},{"p":74.26,"h":215},{"p":73.58,"h":209},{"p":72.94,"h":220},{"p":72.68,"h":470},{"p":71.85,"h":1192},{"p":71.57,"h":1190},{"p":71.12,"h":505},{"p":68.39,"h":1068},{"p":67.91,"h":565},{"p":67.10,"h":375},{"p":64.01,"h":421},{"p":62.61,"h":1468},{"p":62.26,"h":313},{"p":62.09,"h":219}],
"LB":[{"p":103.66,"h":1245,"t":"B1"},{"p":103.66,"h":1211,"t":"E1"},{"p":102.065,"h":497,"t":"A1"},{"p":99.76,"h":529,"t":"C1"}],
"RB":[{"p":80.47,"h":441,"t":"C2"},{"p":79.905,"h":505,"t":"A2"},{"p":74.84,"h":1371,"t":"A4"},{"p":74.84,"h":1337,"t":"B4"},{"p":74.84,"h":1304,"t":"E4"},{"p":72.21,"h":1255,"t":"B3"},{"p":72.21,"h":1222,"t":"E3"},{"p":71.31,"h":1289,"t":"A3"},{"p":71.31,"h":1255,"t":"B2"},{"p":71.31,"h":1222,"t":"E2"},{"p":70.89,"h":643,"t":"E'2"},{"p":68.39,"h":1094,"t":"E5"},{"p":67.747,"h":604,"t":"B5"},{"p":63.157,"h":1457,"t":"B6"},{"p":63.157,"h":1423,"t":"E6"}],
"LG":[{"p":97.43,"h":236,"t":"βGlc1"},{"p":93.58,"h":178,"t":"αGlc1"}],
"RG":[{"p":77.62,"h":265,"t":"βGlc3"},{"p":77.10,"h":243,"t":"βGlc5"},{"p":75.66,"h":227,"t":"βGlc2"},{"p":74.24,"h":245,"t":"αGlc3"},{"p":73.585,"h":239,"t":"αGlc2"},{"p":73.03,"h":241,"t":"αGlc5"},{"p":71.13,"h":534,"t":"αGlc4"},{"p":70.68,"h":534,"t":"βGlc4"},{"p":64.006,"h":444,"t":"Sorb1,6"},{"p":62.11,"h":338,"t":"βGlc6"},{"p":61.82,"h":244,"t":"αGlc6"}],
"LP":[{"p":103.69,"lp":103.69,"v":"103.69"},{"p":102.07,"lp":102.07,"v":"102.07"},{"p":99.72,"lp":99.72,"v":"99.72"},{"p":97.43,"lp":97.43,"v":"97.43"},{"p":93.60,"lp":93.60,"v":"93.60"}],
"RP":[{"p":80.30,"lp":80.595,"v":"80.30"},{"p":80.21,"lp":80.093,"v":"80.21"},{"p":79.94,"lp":79.593,"v":"79.94"},{"p":79.41,"lp":79.074,"v":"79.41"},{"p":77.46,"lp":77.614,"v":"77.46"},{"p":77.27,"lp":77.086,"v":"77.27"},{"p":75.65,"lp":75.477,"v":"75.65"},{"p":74.82,"lp":74.931,"v":"74.82"},{"p":74.26,"lp":74.414,"v":"74.26"},{"p":73.58,"lp":73.896,"v":"73.58"},{"p":72.94,"lp":73.370,"v":"72.94"},{"p":72.68,"lp":72.845,"v":"72.68"},{"p":71.85,"lp":72.326,"v":"71.85"},{"p":71.57,"lp":71.810,"v":"71.57"},{"p":71.12,"lp":71.282,"v":"71.12"},{"p":68.39,"lp":68.249,"v":"68.39"},{"p":67.91,"lp":67.725,"v":"67.91"},{"p":67.10,"lp":67.201,"v":"67.10"},{"p":64.01,"lp":64.01,"v":"64.01"},{"p":62.61,"lp":62.872,"v":"62.61"},{"p":62.26,"lp":62.348,"v":"62.26"},{"p":62.09,"lp":61.825,"v":"62.09"}],
"BOX":[{"p":100.14,"p2":95.58,"h":683,"h2":757}],
"BOXT":[{"p":97.84,"h":705,"t":"C1 region"}],
"ONE":[{"k":1}]
},
"layer":[
{"layer":[
 {"data":{"name":"L"},"mark":{"type":"line","color":"#8b0000","strokeWidth":1.5},
  "encoding":{"x":{"field":"p","type":"quantitative","scale":{"domain":[105,92.5],"range":[0,687],"nice":false,"zero":false},
   "axis":{"orient":"bottom","values":[105,100,95],"offset":10,"tickSize":13,"tickWidth":2,"tickColor":"black","domainWidth":2,"domainColor":"black","labelFont":"Liberation Sans","labelFontSize":29,"labelColor":"black","labelPadding":15,"labelFlush":false,"labelOverlap":false,"grid":false,"title":null}},
   "y":{"field":"y","type":"quantitative","scale":{"domain":[0,1634],"nice":false,"zero":false},"axis":null}}},
 {"data":{"name":"ONE"},"mark":{"type":"rule","color":"black","strokeWidth":2},
  "encoding":{"x":{"datum":105,"type":"quantitative","scale":{"domain":[105,92.5],"range":[0,687],"nice":false,"zero":false},
   "axis":{"orient":"bottom","values":[102.5,97.5,92.5],"offset":10,"tickSize":7,"tickWidth":2,"tickColor":"black","domainWidth":2,"domainColor":"black","labels":false,"grid":false,"title":null}},
   "x2":{"datum":92.5},"y":{"datum":0,"type":"quantitative","axis":null}}},
 {"data":{"name":"ONE"},"mark":{"type":"rule","color":"black","strokeWidth":1.5},
  "encoding":{"x":{"datum":105,"type":"quantitative","axis":null}}},
 {"data":{"name":"ONE"},"mark":{"type":"rule","color":"black","strokeWidth":1.5},
  "encoding":{"y":{"datum":1634,"type":"quantitative","axis":null}}},
 {"data":{"name":"LT"},"mark":{"type":"rule","color":"#00008b","strokeWidth":2.5,"yOffset":-4,"y2Offset":-19},
  "encoding":{"x":{"field":"p","type":"quantitative","axis":null},"y":{"field":"h","type":"quantitative","axis":null},"y2":{"field":"h"}}},
 {"data":{"name":"LB"},"mark":{"type":"text","font":"Liberation Sans","fontSize":35,"fontWeight":"bold","color":"black","align":"center","baseline":"alphabetic"},
  "encoding":{"x":{"field":"p","type":"quantitative","axis":null},"y":{"field":"h","type":"quantitative","axis":null},"text":{"field":"t"}}},
 {"data":{"name":"LG"},"mark":{"type":"text","font":"Liberation Sans","fontSize":31,"fontWeight":"bold","color":"black","angle":270,"align":"left","baseline":"middle"},
  "encoding":{"x":{"field":"p","type":"quantitative","axis":null},"y":{"field":"h","type":"quantitative","axis":null},"text":{"field":"t"}}},
 {"data":{"name":"LP"},"mark":{"type":"rule","color":"#000080","strokeWidth":1.5},
  "encoding":{"x":{"field":"lp","type":"quantitative","axis":null},"y":{"datum":1551,"type":"quantitative","axis":null},"y2":{"datum":1542}}},
 {"data":{"name":"LP"},"mark":{"type":"rule","color":"#000080","strokeWidth":1.5},
  "encoding":{"x":{"field":"lp","type":"quantitative","axis":null},"x2":{"field":"p"},"y":{"datum":1542,"type":"quantitative","axis":null},"y2":{"datum":1530}}},
 {"data":{"name":"LP"},"mark":{"type":"rule","color":"#000080","strokeWidth":1.5},
  "encoding":{"x":{"field":"p","type":"quantitative","axis":null},"y":{"datum":1530,"type":"quantitative","axis":null},"y2":{"datum":1521}}},
 {"data":{"name":"LP"},"mark":{"type":"text","font":"Liberation Sans","fontSize":22,"color":"#000080","angle":270,"align":"left","baseline":"middle"},
  "encoding":{"x":{"field":"lp","type":"quantitative","axis":null},"y":{"datum":1557,"type":"quantitative","axis":null},"text":{"field":"v"}}},
 {"data":{"name":"BOX"},"mark":{"type":"rect","fill":"white","stroke":"black","strokeWidth":1.5},
  "encoding":{"x":{"field":"p","type":"quantitative","axis":null},"x2":{"field":"p2"},"y":{"field":"h","type":"quantitative","axis":null},"y2":{"field":"h2"}}},
 {"data":{"name":"BOXT"},"mark":{"type":"text","font":"Liberation Sans","fontSize":47,"fontWeight":"bold","color":"black","align":"center","baseline":"alphabetic"},
  "encoding":{"x":{"field":"p","type":"quantitative","axis":null},"y":{"field":"h","type":"quantitative","axis":null},"text":{"field":"t"}}}
],"resolve":{"axis":{"x":"independent"}}},
{"layer":[
 {"data":{"name":"R"},"mark":{"type":"line","color":"#8b0000","strokeWidth":1.5},
  "encoding":{"x":{"field":"p","type":"quantitative","scale":{"domain":[82.5,60.62],"range":[711,1914],"nice":false,"zero":false},
   "axis":{"orient":"bottom","values":[80,75,70,65],"offset":10,"tickSize":13,"tickWidth":2,"tickColor":"black","domainWidth":2,"domainColor":"black","labelFont":"Liberation Sans","labelFontSize":29,"labelColor":"black","labelPadding":15,"labelFlush":false,"labelOverlap":false,"grid":false,
    "title":"f1 (ppm)","titleFont":"Liberation Sans","titleFontSize":28,"titleFontWeight":"normal","titleColor":"black","titleX":1017,"titleY":74,"titleAlign":"center","titleBaseline":"alphabetic"}},
   "y":{"field":"y","type":"quantitative","scale":{"domain":[0,1634],"nice":false,"zero":false},"axis":null}}},
 {"data":{"name":"ONE"},"mark":{"type":"rule","color":"black","strokeWidth":2},
  "encoding":{"x":{"datum":82.5,"type":"quantitative","scale":{"domain":[82.5,60.62],"range":[711,1914],"nice":false,"zero":false},
   "axis":{"orient":"bottom","values":[82.5,77.5,72.5,67.5,62.5],"offset":10,"tickSize":7,"tickWidth":2,"tickColor":"black","domainWidth":2,"domainColor":"black","labels":false,"grid":false,"title":null}},
   "x2":{"datum":60.62},"y":{"datum":0,"type":"quantitative","axis":null}}},
 {"data":{"name":"ONE"},"mark":{"type":"rule","color":"black","strokeWidth":1.5},
  "encoding":{"x":{"datum":60.62,"type":"quantitative","axis":null}}},
 {"data":{"name":"RT"},"mark":{"type":"rule","color":"#00008b","strokeWidth":2.5,"yOffset":-4,"y2Offset":-19},
  "encoding":{"x":{"field":"p","type":"quantitative","axis":null},"y":{"field":"h","type":"quantitative","axis":null},"y2":{"field":"h"}}},
 {"data":{"name":"RB"},"mark":{"type":"text","font":"Liberation Sans","fontSize":35,"fontWeight":"bold","color":"black","align":"center","baseline":"alphabetic"},
  "encoding":{"x":{"field":"p","type":"quantitative","axis":null},"y":{"field":"h","type":"quantitative","axis":null},"text":{"field":"t"}}},
 {"data":{"name":"RG"},"mark":{"type":"text","font":"Liberation Sans","fontSize":31,"fontWeight":"bold","color":"black","angle":270,"align":"left","baseline":"middle"},
  "encoding":{"x":{"field":"p","type":"quantitative","axis":null},"y":{"field":"h","type":"quantitative","axis":null},"text":{"field":"t"}}},
 {"data":{"name":"RP"},"mark":{"type":"rule","color":"#000080","strokeWidth":1.5},
  "encoding":{"x":{"field":"lp","type":"quantitative","axis":null},"y":{"datum":1551,"type":"quantitative","axis":null},"y2":{"datum":1542}}},
 {"data":{"name":"RP"},"mark":{"type":"rule","color":"#000080","strokeWidth":1.5},
  "encoding":{"x":{"field":"lp","type":"quantitative","axis":null},"x2":{"field":"p"},"y":{"datum":1542,"type":"quantitative","axis":null},"y2":{"datum":1530}}},
 {"data":{"name":"RP"},"mark":{"type":"rule","color":"#000080","strokeWidth":1.5},
  "encoding":{"x":{"field":"p","type":"quantitative","axis":null},"y":{"datum":1530,"type":"quantitative","axis":null},"y2":{"datum":1521}}},
 {"data":{"name":"RP"},"mark":{"type":"text","font":"Liberation Sans","fontSize":22,"color":"#000080","angle":270,"align":"left","baseline":"middle"},
  "encoding":{"x":{"field":"lp","type":"quantitative","axis":null},"y":{"datum":1557,"type":"quantitative","axis":null},"text":{"field":"v"}}}
],"resolve":{"axis":{"x":"independent"}}}
],
"resolve":{"scale":{"x":"independent"},"axis":{"x":"independent"}}
}
